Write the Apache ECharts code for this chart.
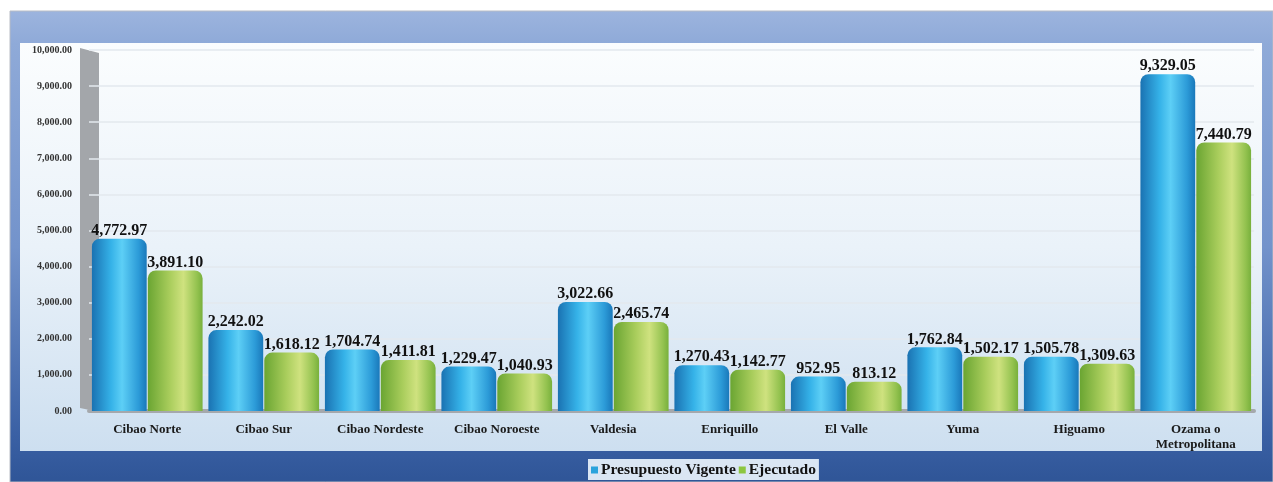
<!DOCTYPE html>
<html>
<head>
<meta charset="utf-8">
<script src="https://cdn.jsdelivr.net/npm/echarts@6/dist/echarts.min.js"></script>
<style>
  html, body { margin: 0; padding: 0; background: #fff; }
  #chart { width: 1273px; height: 482px; }
</style>
</head>
<body>
<div id="chart"></div>
<script>
var regiones = ['Cibao Norte', 'Cibao Sur', 'Cibao Nordeste', 'Cibao Noroeste', 'Valdesia',
    'Enriquillo', 'El Valle', 'Yuma', 'Higuamo', 'Ozama o\nMetropolitana'];
var presupuesto = [4772.97, 2242.02, 1704.74, 1229.47, 3022.66, 1270.43, 952.95, 1762.84, 1505.78, 9329.05];
var ejecutado = [3891.10, 1618.12, 1411.81, 1040.93, 2465.74, 1142.77, 813.12, 1502.17, 1309.63, 7440.79];
var yTicks = [0, 1000, 2000, 3000, 4000, 5000, 6000, 7000, 8000, 9000, 10000];

var serif = '"Liberation Serif", "DejaVu Serif", serif';

function fmt(v) {
    return Number(v).toLocaleString('en-US', { minimumFractionDigits: 2, maximumFractionDigits: 2 });
}

var chart = echarts.init(document.getElementById('chart'));

var blueBar = new echarts.graphic.LinearGradient(0, 0, 1, 0, [
    { offset: 0, color: '#1a72b2' },
    { offset: 0.35, color: '#35b2e8' },
    { offset: 0.55, color: '#5dcff6' },
    { offset: 0.85, color: '#2c9bd8' },
    { offset: 1, color: '#1a78ba' }
]);
var greenBar = new echarts.graphic.LinearGradient(0, 0, 1, 0, [
    { offset: 0, color: '#6aa532' },
    { offset: 0.4, color: '#a9cd5c' },
    { offset: 0.65, color: '#cfe27f' },
    { offset: 0.9, color: '#93c24f' },
    { offset: 1, color: '#78b03c' }
]);

var etiqueta = {
    show: true, position: 'top', distance: 0,
    fontFamily: serif, fontWeight: 'bold', fontSize: 16, color: '#111',
    formatter: function (p) { return fmt(p.value); }
};

var option = {
    animation: false,
    graphic: [
        { // marco exterior
            type: 'rect', z: -20, silent: true,
            shape: { x: 10, y: 11, width: 1263, height: 471 },
            style: {
                fill: new echarts.graphic.LinearGradient(0, 0, 0, 1, [
                    { offset: 0, color: '#9cb4de' },
                    { offset: 0.07, color: '#8faad8' },
                    { offset: 0.5, color: '#7393cb' },
                    { offset: 0.9, color: '#3a60a4' },
                    { offset: 1, color: '#2f5597' }
                ]),
                stroke: '#b8bcc4', lineWidth: 1
            }
        },
        { // panel interior
            type: 'rect', z: -19, silent: true,
            shape: { x: 20, y: 43, width: 1242, height: 408 },
            style: {
                fill: new echarts.graphic.LinearGradient(0, 0, 0, 1, [
                    { offset: 0, color: '#fbfdfe' },
                    { offset: 0.5, color: '#eaf2f9' },
                    { offset: 1, color: '#cddff0' }
                ])
            }
        },
        { // pared 3D
            type: 'polygon', z: -18, silent: true,
            shape: { points: [[80, 48], [99, 53], [99, 412], [80, 408]] },
            style: { fill: '#a3a6aa' }
        }
    ],
    legend: {
        bottom: 2,
        left: 588,
        data: [
            { name: 'Presupuesto Vigente', itemStyle: { color: '#2aa3dc' } },
            { name: 'Ejecutado', itemStyle: { color: '#8cc63f' } }
        ],
        icon: 'rect',
        itemWidth: 7,
        itemHeight: 7,
        itemGap: 3,
        backgroundColor: '#dae6f3',
        padding: [3, 3, 2, 3],
        textStyle: { fontFamily: serif, fontWeight: 'bold', fontSize: 15.5, color: '#111', padding: [0, 0, 0, -2] }
    },
    grid: { left: 89, right: 19, top: 50, bottom: 71 },
    xAxis: {
        type: 'category',
        data: regiones,
        axisLine: { lineStyle: { color: '#a5a8ac', width: 4 } },
        axisTick: { show: false },
        axisLabel: {
            fontFamily: serif, fontWeight: 'bold', fontSize: 13, color: '#1a1a1a',
            margin: 11, lineHeight: 15, interval: 0
        }
    },
    yAxis: {
        type: 'value',
        min: 0,
        max: 10000,
        interval: 1000,
        axisLine: { show: false },
        axisTick: { show: false },
        splitLine: { lineStyle: { color: '#e3e8ee', width: 1.5 } },
        axisLabel: {
            fontFamily: serif, fontWeight: 'bold', fontSize: 10, color: '#333',
            margin: 17,
            formatter: function (v) { return yTicks.indexOf(v) >= 0 ? fmt(v) : ''; }
        }
    },
    series: [
        {
            name: 'Presupuesto Vigente',
            type: 'bar',
            data: presupuesto,
            barGap: '2%',
            barCategoryGap: '5%',
            itemStyle: { color: blueBar, borderRadius: [8, 8, 0, 0] },
            label: etiqueta
        },
        {
            name: 'Ejecutado',
            type: 'bar',
            data: ejecutado,
            itemStyle: { color: greenBar, borderRadius: [8, 8, 0, 0] },
            label: etiqueta
        }
    ]
};

chart.setOption(option);
</script>
</body>
</html>
